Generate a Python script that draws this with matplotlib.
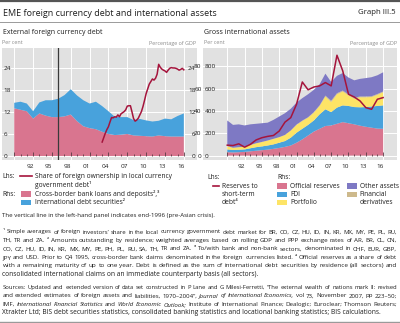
import numpy as np
import matplotlib
matplotlib.use("Agg")
import matplotlib.pyplot as plt
from matplotlib.lines import Line2D
from matplotlib.patches import Rectangle

plt.rcParams["font.family"] = ["Open Sans", "DejaVu Sans"]

# ---- data -------------------------------------------------------------
# left panel: annual, plotted at end of period
years_left = np.arange(1990, 2018)
bank_loans = [13.0, 12.6, 12.2, 10.2, 11.6, 11.0, 10.6, 10.6, 10.8, 11.3, 9.5, 8.1, 7.6, 7.3,
              6.6, 6.0, 5.7, 5.8, 6.0, 5.6, 5.5, 5.4, 5.3, 5.6, 5.4, 5.3, 5.3, 5.3]
debt_securities = [1.5, 2.2, 2.1, 2.0, 3.0, 4.2, 4.6, 5.0, 5.8, 6.9, 7.0, 7.1, 6.7, 7.5,
                   7.0, 6.2, 5.0, 4.8, 4.6, 4.2, 4.6, 4.3, 4.1, 4.0, 4.8, 4.7, 5.6, 6.3]
# foreign ownership share, quarterly 2004 Q1 - 2016 Q4
quarters = np.linspace(2004, 2017, 53)
foreign_share = [3.8, 5.0, 6.2, 7.2, 8.0, 9.3, 10.5, 10.4, 10.7, 10.6, 11.2, 10.7, 11.5, 11.8,
                 12.1, 12.6, 13.6, 13.7, 13.7, 12.0, 10.2, 9.5, 9.8, 10.3, 11.2, 12.1, 13.5,
                 15.2, 17.0, 18.3, 19.6, 20.3, 21.0, 20.7, 21.2, 22.3, 25.0, 24.2, 23.7, 23.4,
                 23.2, 22.8, 23.4, 23.9, 24.1, 24.0, 24.0, 23.9, 23.7, 23.4, 23.6, 23.9, 23.5]
crisis_line = 1997  # end-1996

# right panel: annual, plotted at end of period
years_right = np.arange(1990, 2018)
reserves_st_debt = [93, 90, 105, 75, 100, 140, 160, 172, 180, 220, 300, 340, 460, 660, 590,
                    615, 625, 655, 625, 900, 760, 550, 525, 490, 430, 415, 505, 520]
official_reserves = [3.0, 2.8, 3.0, 3.3, 3.8, 4.3, 4.8, 5.3, 6.0, 6.8, 7.8, 9.0, 11.5, 14.5,
                     18.0, 21.5, 24.0, 26.5, 27.0, 28.5, 30.0, 29.0, 28.0, 26.8, 25.8, 25.0, 24.2, 24.0]
fdi = [2.5, 2.2, 2.2, 2.2, 2.7, 3.2, 3.4, 3.7, 4.0, 4.7, 5.2, 7.0, 9.0, 9.5,
       9.5, 10.0, 13.0, 15.0, 12.0, 14.5, 15.0, 15.5, 15.5, 16.5, 17.7, 19.0, 20.3, 21.0]
portfolio = [3.0, 2.0, 2.3, 2.5, 3.0, 3.5, 4.0, 4.5, 5.0, 5.0, 5.5, 6.5, 7.0, 7.0,
             6.5, 7.0, 7.5, 11.5, 9.0, 12.0, 12.5, 9.5, 7.5, 9.0, 8.8, 8.5, 10.0, 11.8]
derivatives = [0, 0, 0, 0, 0, 0, 0, 0, 0, 0, 0, 0, 0.3, 0.4,
               0.4, 0.5, 0.6, 0.8, 1.2, 0.9, 0.8, 0.9, 0.8, 0.7, 0.7, 0.7, 0.7, 0.7]
other_assets = [23.0, 20.5, 20.5, 19.0, 18.5, 17.5, 16.8, 16.0, 17.0, 18.5, 19.5, 19.5, 19.7, 20.1,
                20.6, 20.0, 18.9, 19.7, 16.8, 15.6, 15.7, 15.1, 15.7, 15.8, 16.5, 17.1, 16.8, 17.2]

tick_labels = ["92", "95", "98", "01", "04", "07", "10", "13", "16"]
left_ticks = [0, 6, 12, 18, 24]
right_ticks_lhs = [0, 200, 400, 600, 800]
right_ticks_rhs = [0, 20, 40, 60, 80]

# ---- style ------------------------------------------------------------
RED = "#a5143c"
PINK = "#d9758f"
BLUE = "#48a2dc"
YELLOW = "#fde466"
PURPLE = "#7e79c4"
TAN = "#cdb98c"
BG = "#e1e1e1"
TXT = "#1e1e1e"

W, H = 400, 323


def fx(x):
    return x / W


def fy(y):
    return 1 - y / H


fig = plt.figure(figsize=(W / 100, H / 100), dpi=100)


def style_axes(ax, xlim, ylim, yticks):
    ax.set_xlim(*xlim)
    ax.set_ylim(*ylim)
    for s in ax.spines.values():
        s.set_visible(False)
    ax.spines["bottom"].set_position(("data", 0))
    ax.set_xticks(np.arange(1990, 2018, 3))
    ax.set_xticks(np.arange(1990, 2018), minor=True)
    ax.tick_params(axis="x", which="major", direction="in", length=3.2, width=0.6,
                   color="#5a3a44", labelbottom=False)
    ax.tick_params(axis="x", which="minor", direction="in", length=1.6, width=0.6,
                   color="#5a3a44")
    ax.set_yticks(yticks)
    for yr in range(1990, 2018, 3):
        ax.axvline(yr, color="white", lw=0.7, zorder=0.5)
    for v in yticks:
        ax.axhline(v, color="white", lw=0.7, zorder=0.5)
    for yr, lab in zip(range(1992, 2017, 3), tick_labels):
        ax.text(yr + 0.5, -7 / 112, lab, transform=ax.get_xaxis_transform(),
                ha="center", va="center", fontsize=4.6, color=TXT)


# ---- left panel -------------------------------------------------------
ax_l = fig.add_axes([fx(2), fy(160), 195 / W, 112 / H])
ax_l.set_facecolor(BG)
style_axes(ax_l, (1988.05, 2019.1), (-1.1, 29.45), left_ticks)
ax_l.stackplot(years_left, bank_loans, debt_securities, colors=[PINK, BLUE], lw=0)
ax_l.axvline(crisis_line, color="#3a3a3a", lw=0.9, zorder=3)
ax_l.plot(quarters, foreign_share, color=RED, lw=1.1, zorder=4)
ax_l.tick_params(axis="y", length=0, labelsize=4.6, labelcolor=TXT, pad=-1,
                 labelleft=True, labelright=True)
for t in ax_l.yaxis.get_major_ticks():
    t.label1.set_horizontalalignment("left")
    t.label2.set_horizontalalignment("right")

# ---- right panel ------------------------------------------------------
ax_r2 = fig.add_axes([fx(203), fy(160), 194 / W, 112 / H])
ax_r2.set_facecolor(BG)
style_axes(ax_r2, (1985.8, 2019.4), (-4.0, 96.5), right_ticks_rhs)
ax_r2.stackplot(years_right, official_reserves, fdi, portfolio, derivatives, other_assets,
                colors=[PINK, BLUE, YELLOW, TAN, PURPLE], lw=0)
ax_r2.yaxis.tick_right()
ax_r2.tick_params(axis="y", length=0, labelsize=4.6, labelcolor=TXT, pad=1)
for t in ax_r2.yaxis.get_major_ticks():
    t.label2.set_horizontalalignment("right")

ax_r = ax_r2.twinx()
ax_r.set_ylim(-40, 965)
for s in ax_r.spines.values():
    s.set_visible(False)
ax_r.plot(years_right, reserves_st_debt, color=RED, lw=1.1, zorder=4)
ax_r.set_yticks(right_ticks_lhs)
ax_r.yaxis.tick_left()
ax_r.tick_params(axis="y", length=0, labelsize=4.6, labelcolor=TXT, pad=-1.5)
for t in ax_r.yaxis.get_major_ticks():
    t.label1.set_horizontalalignment("left")

# ---- header -----------------------------------------------------------
fig.add_artist(Line2D([0, 1], [fy(1), fy(1)], color="#555555", lw=1.6))
fig.add_artist(Line2D([0, 1], [fy(22), fy(22)], color="#9a9a9a", lw=0.7))
fig.add_artist(Line2D([0, 1], [fy(321.5), fy(321.5)], color="#9a9a9a", lw=1.0))
fig.text(fx(3), fy(13), "EME foreign currency debt and international assets",
         fontsize=6.5, color=TXT, va="center")
fig.text(fx(396), fy(13), "Graph III.5", fontsize=5.6, color=TXT, va="center", ha="right")
fig.text(fx(3), fy(33), "External foreign currency debt", fontsize=5.0, color=TXT, va="center")
fig.text(fx(204), fy(33), "Gross international assets", fontsize=5.0, color=TXT, va="center")
for x0, x1 in [(2, 196), (204, 397)]:
    fig.text(fx(x0), fy(43), "Per cent", fontsize=3.9, color="#8a8a8a", va="center")
    fig.text(fx(x1), fy(43), "Percentage of GDP", fontsize=3.9, color="#8a8a8a",
             va="center", ha="right")

# ---- legends ----------------------------------------------------------
LS = 4.8


def patch(x, y, color):
    fig.add_artist(Rectangle((fx(x), fy(y + 2.6)), 10 / W, 5.2 / H, color=color, lw=0))


def txt(x, y, s):
    fig.text(fx(x), fy(y), s, fontsize=LS, color=TXT, va="center")


txt(2, 176, "Lhs:")
fig.add_artist(Line2D([fx(20), fx(32)], [fy(176), fy(176)], color=RED, lw=1.2))
txt(35, 176, "Share of foreign ownership in local currency")
txt(35, 184.5, "government debt¹")
txt(2, 194, "Rhs:")
patch(21, 194, PINK)
txt(35, 194, "Cross-border bank loans and deposits²,³")
patch(21, 202.5, BLUE)
txt(35, 202.5, "International debt securities²")

txt(207, 177.5, "Lhs:")
fig.add_artist(Line2D([fx(212.5), fx(219.5)], [fy(186), fy(186)], color=RED, lw=1.2))
txt(222, 186, "Reserves to")
txt(222, 194.3, "short-term")
txt(222, 202.7, "debt⁴")
txt(277, 177.5, "Rhs:")
for (lab, col), y in zip([("Official reserves", PINK), ("FDI", BLUE), ("Portfolio", YELLOW)],
                         [186, 194.3, 202.7]):
    patch(277, y, col)
    txt(290.5, y, lab)
patch(347, 186, PURPLE)
txt(359.5, 186, "Other assets")
patch(347, 194.3, TAN)
txt(359.5, 194.3, "Financial")
txt(359.5, 202.7, "derivatives")

# ---- notes ------------------------------------------------------------
FS = 4.75
renderer = fig.canvas.get_renderer()


def put_line(y, line, justify=True, size=FS, x0=2.5, x1=397):
    if not justify:
        fig.text(fx(x0), fy(y), line, fontsize=size, color=TXT, va="center")
        return
    words, styles = [], []
    italic = False
    for w in line.split():
        styles.append("italic" if (italic or w.startswith("*")) else "normal")
        if w.count("*") % 2 == 1:
            italic = not italic
        words.append(w.replace("*", ""))

    def measure(fs):
        ts = [fig.text(0, fy(y), w, fontsize=fs, color=TXT, va="center", style=st)
              for w, st in zip(words, styles)]
        return ts, [t.get_window_extent(renderer).width for t in ts]

    texts, widths = measure(size)
    min_gap = 0.24 * size * 100 / 72
    need = sum(widths) + min_gap * (len(words) - 1)
    if need > x1 - x0:
        for t in texts:
            t.remove()
        texts, widths = measure(size * (x1 - x0) / need)
    gap = (x1 - x0 - sum(widths)) / (len(texts) - 1)
    x = x0
    for t, w in zip(texts, widths):
        t.set_x(fx(x))
        x += w + gap


put_line(216, "The vertical line in the left-hand panel indicates end-1996 (pre-Asian crisis).",
         justify=False, size=4.4)
notes = [
    "¹ Simple averages of foreign investors’ share in the local currency government debt market for BR, CO, CZ, HU, ID, IN, KR, MX, MY, PE, PL, RU,",
    "TH, TR and ZA.  ² Amounts outstanding by residence; weighted averages based on rolling GDP and PPP exchange rates of AR, BR, CL, CN,",
    "CO, CZ, HU, ID, IN, KR, MX, MY, PE, PH, PL, RU, SA, TH, TR and ZA.  ³ To/with bank and non-bank sectors, denominated in CHF, EUR, GBP,",
    "JPY and USD. Prior to Q4 1995, cross-border bank claims denominated in the foreign currencies listed.  ⁴ Official reserves as a share of debt",
    "with a remaining maturity of up to one year. Debt is defined as the sum of international debt securities by residence (all sectors) and",
]
for i, line in enumerate(notes):
    put_line(232 + i * 8.45, line)
put_line(274.3, "consolidated international claims on an immediate counterparty basis (all sectors).",
         justify=False)

sources = [
    "Sources: Updated and extended version of data set constructed in P Lane and G Milesi-Ferretti, “The external wealth of nations mark II: revised",
    "and extended estimates of foreign assets and liabilities, 1970–2004”, *Journal of International Economics*, vol 73, November 2007, pp 223–50;",
    "IMF, *International Financial Statistics* and *World Economic Outlook*; Institute of International Finance; Dealogic; Euroclear; Thomson Reuters;",
]
for i, line in enumerate(sources):
    put_line(287.3 + i * 8.5, line)
put_line(312.7, "Xtrakter Ltd; BIS debt securities statistics, consolidated banking statistics and locational banking statistics; BIS calculations.",
         justify=False)

fig.savefig("out.png", dpi=100)
